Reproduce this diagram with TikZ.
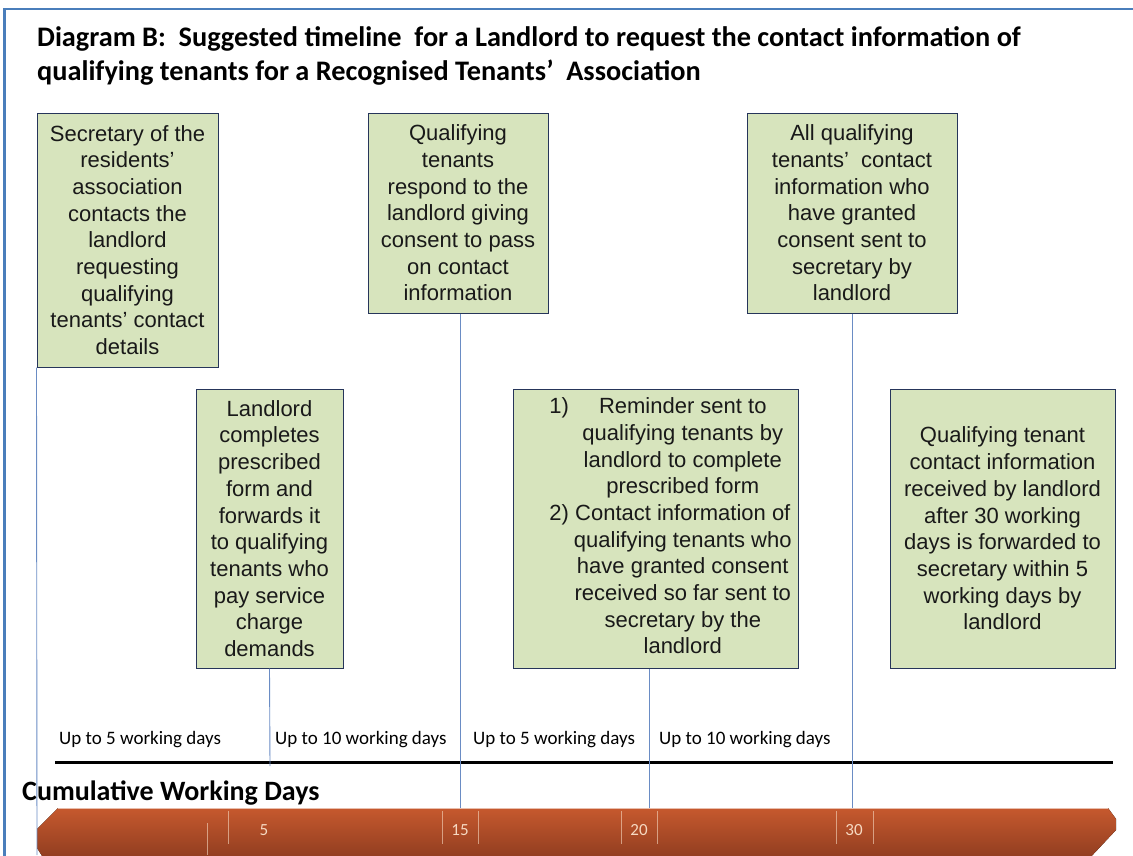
\documentclass[tikz,border=0pt]{standalone}
\usepackage{fontspec}
\usepackage{tikz}
\usetikzlibrary{positioning}
\newfontfamily\arialfont{Liberation Sans}
\newfontfamily\calfont{Carlito}
\definecolor{frameblue}{HTML}{4A7EBB}
\definecolor{boxfill}{HTML}{D7E4BD}
\definecolor{boxline}{HTML}{26355A}
\definecolor{linkblue}{HTML}{6A8CC4}
\definecolor{bartop}{HTML}{C6592E}
\definecolor{barbot}{HTML}{8C3B1F}
\definecolor{barnum}{HTML}{F6D9C2}

\begin{document}
\begin{tikzpicture} [x=1pt, y=-1pt, >=latex,
    every node/.style={inner sep=0pt},
    event/.style={rectangle, draw=boxline, fill=boxfill, line width=1pt,
    align=center, text=black!90,
    font=\arialfont\fontsize{22}{26.7}\selectfont},
    tline/.style={draw=linkblue, line width=0.9pt},
    period/.style={anchor=base west, font=\calfont\fontsize{19}{22}\selectfont},
    daynum/.style={anchor=base, text=barnum, font=\calfont\fontsize{17}{20}\selectfont}
    ]
    \useasboundingbox (0,0) rectangle (1133,855);
    \clip (0,0) rectangle (1133,855);
    \draw [frameblue, line width=2.5pt] (4.5,860) -- (4.5,9) -- (1140,9);

    % heading
    \node (title) [anchor=north west, align=left,
      font=\calfont\bfseries\fontsize{28.3}{34}\selectfont] at (37,26)
      {Diagram B:~ Suggested timeline~ for a Landlord to request the contact information of\\
       qualifying tenants for a Recognised Tenants’~ Association};

    % steps above the line
    \node (n1) [event, minimum width=181pt, minimum height=254pt] at (127.5,240)
      {Secretary of the\\ residents’\\ association\\ contacts the\\ landlord\\
       requesting\\ qualifying\\ tenants’ contact\\ details};
    \node (n3) [event, minimum width=180pt, minimum height=200pt] at (458,213)
      {Qualifying\\ tenants\\ respond to the\\ landlord giving\\ consent to pass\\
       on contact\\ information};
    \node (n4) [event, minimum width=210pt, minimum height=200pt] at (852,213)
      {All qualifying\\ tenants’~ contact\\ information who\\ have granted\\
       consent sent to\\ secretary by\\ landlord};
    \node (n2) [event, minimum width=147pt, minimum height=279pt] at (269.5,528.5)
      {Landlord\\ completes\\ prescribed\\ form and\\ forwards it\\ to qualifying\\
       tenants who\\ pay service\\ charge\\ demands};
    \node (n5) [event, minimum width=285pt, minimum height=279pt] at (655.5,528.5)
      {\hspace*{30pt}\begin{tabular}{@{}r@{\hspace{5pt}}c@{}}
       1) & Reminder sent to\\ & qualifying tenants by\\ & landlord to complete\\
          & prescribed form\\
       2) & Contact information of\\ & qualifying tenants who\\ & have granted consent\\
          & received so far sent to\\ & secretary by the\\ & landlord
       \end{tabular}};
    \node (n6) [event, minimum width=225pt, minimum height=279pt] at (1002.5,528.5)
      {Qualifying tenant\\ contact information\\ received by landlord\\ after 30 working\\
       days is forwarded to\\ secretary within 5\\ working days by\\ landlord};

    % working day periods
    \node (p1) [period] at (59,744) {Up to 5 working days};
    \node (p2) [period] at (275,744) {Up to 10 working days};
    \node (p3) [period] at (473,744) {Up to 5 working days};
    \node (p4) [period] at (659,744) {Up to 10 working days};
    \draw [line width=3pt] (55,762) -- (1113,762);

    \node (cum) [anchor=base west, font=\calfont\bfseries\fontsize{28}{32}\selectfont]
      at (22,800) {Cumulative Working Days};

    % day bar
    \fill [top color=bartop, bottom color=barbot]
      (58,808) -- (1108,808) -- (1116,819) -- (1116,830) -- (1086,862)
      -- (46,862) -- (37,848) -- (37,829) -- cycle;
    \draw [bartop!40!white, line width=1pt] (58,808.5) -- (1108,808.5);
    \draw [barnum, line width=0.7pt, opacity=0.6]
      (207,823) -- (207,855) (228,811) -- (228,844)
      (442,811) -- (442,844) (478,811) -- (478,844)
      (621,811) -- (621,844) (657,811) -- (657,844)
      (836,811) -- (836,844) (873,811) -- (873,844);
    \node (k5) [daynum] at (264,835) {5};
    \node (k15) [daynum] at (460,835) {15};
    \node (k20) [daynum] at (639,835) {20};
    \node (k30) [daynum] at (854,835) {30};

    \coordinate (d0) at (37,855);
    \coordinate (d5) at (270,766);
    \coordinate (d15) at (460,808);
    \coordinate (d20) at (649,808);
    \coordinate (d30) at (852,808);

    \draw [tline] (n1.south west) -- (d0);
    \draw [tline] (n2.south) -- (d5);
    \draw [tline] (n3.south -| d15) -- (d15);
    \draw [tline] (n5.south -| d20) -- (d20);
    \draw [tline] (n4.south) -- (d30);
  \end{tikzpicture}
\end{document}
